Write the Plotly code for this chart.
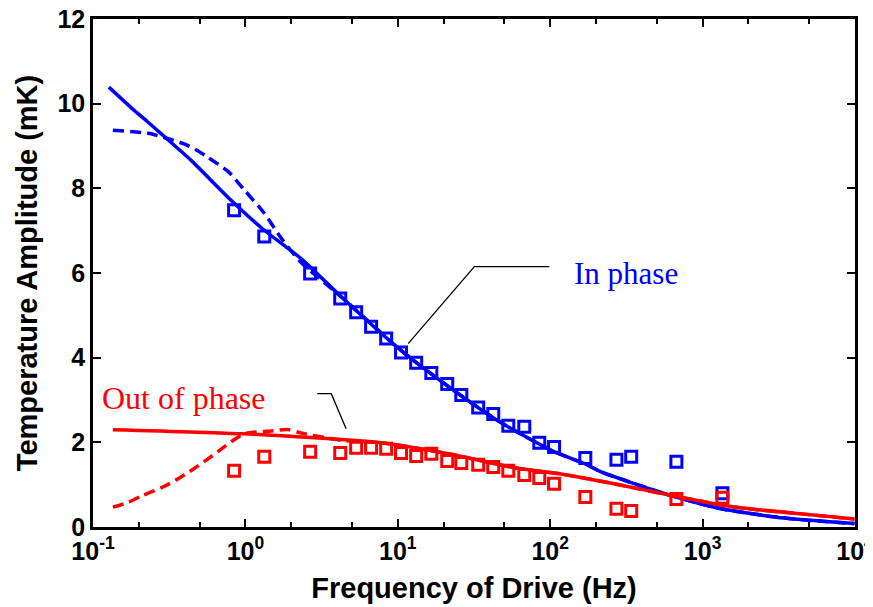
import plotly.graph_objects as go

# ---- data ----
freq_pts = [0.843, 1.33, 2.66, 4.19, 5.33, 6.68, 8.39, 10.5, 13.2, 16.6, 21.1, 26.1,
            33.7, 42.3, 53.1, 67.6, 84.8, 106, 170, 272, 340, 673, 1349]
inphase_pts = [7.48, 6.86, 5.99, 5.40, 5.07, 4.73, 4.45, 4.12, 3.88, 3.64, 3.38, 3.12,
               2.82, 2.67, 2.39, 2.37, 1.99, 1.89, 1.63, 1.59, 1.66, 1.54, 0.80]
outphase_pts = [1.33, 1.66, 1.78, 1.75, 1.87, 1.87, 1.85, 1.75, 1.68, 1.73, 1.56, 1.51,
                1.47, 1.42, 1.33, 1.23, 1.16, 1.02, 0.71, 0.43, 0.38, 0.66, 0.69]

in_solid_f = [0.127, 0.180, 0.230, 0.288, 0.440, 0.805, 1.33, 2.32, 4.25, 10.5, 22.4, 47.8,
              106, 170, 216, 340, 653, 1327, 3444, 9930]
in_solid_y = [10.39, 9.89, 9.56, 9.25, 8.66, 7.72, 7.01, 6.34, 5.44, 4.17, 3.27, 2.46,
              1.78, 1.49, 1.30, 1.05, 0.72, 0.43, 0.21, 0.08]

in_dash_f = [0.135, 0.230, 0.292, 0.396, 0.480, 0.569, 0.769, 0.98, 1.33, 1.72, 2.32, 4.25,
             10.5, 22.4, 47.8, 106, 170, 216, 340, 653, 1327, 3444, 9930]
in_dash_y = [9.37, 9.30, 9.20, 9.05, 8.90, 8.73, 8.40, 7.97, 7.41, 6.82, 6.25, 5.44,
             4.17, 3.27, 2.46, 1.78, 1.49, 1.30, 1.05, 0.72, 0.43, 0.21, 0.08]

out_solid_f = [0.135, 0.98, 7.78, 21.4, 58.1, 118, 263, 596, 1618, 4454, 9930]
out_solid_y = [2.30, 2.20, 1.99, 1.73, 1.40, 1.25, 1.02, 0.76, 0.47, 0.31, 0.19]

out_dash_f = [0.135, 0.170, 0.207, 0.290, 0.378, 0.469, 0.569, 0.700, 0.843, 0.98, 1.48,
              1.91, 2.32, 4.25, 7.78, 21.4, 58.1, 118, 263, 596, 1618, 4454, 9930]
out_dash_y = [0.47, 0.58, 0.73, 0.95, 1.18, 1.40, 1.61, 1.85, 2.06, 2.20, 2.27,
              2.30, 2.22, 2.05, 1.99, 1.73, 1.40, 1.25, 1.02, 0.76, 0.47, 0.31, 0.19]

# callout leader lines (data units)
in_call_f = [11.7, 31.8, 98.6]
in_call_y = [4.33, 6.15, 6.15]
out_call_f = [2.96, 3.66, 4.58]
out_call_y = [3.15, 3.15, 2.32]

tick_vals = [0.1, 1, 10, 100, 1000, 10000]
tick_text = ["10<sup>-1</sup>", "10<sup>0</sup>", "10<sup>1</sup>",
             "10<sup>2</sup>", "10<sup>3</sup>", "10<sup>4</sup>"]
y_ticks = [0, 2, 4, 6, 8, 10, 12]

BLUE = "#0000ff"
RED = "#ff0000"

fig = go.Figure()
fig.add_trace(go.Scatter(x=in_dash_f, y=in_dash_y, mode="lines", line_shape="spline",
                         line=dict(color=BLUE, width=3.5, dash="11px,6px", smoothing=0.7)))
fig.add_trace(go.Scatter(x=in_solid_f, y=in_solid_y, mode="lines", line_shape="spline",
                         line=dict(color=BLUE, width=3.5, smoothing=0.6)))
fig.add_trace(go.Scatter(x=freq_pts, y=inphase_pts, mode="markers",
                         marker=dict(symbol="square-open", size=11, color=BLUE,
                                     line=dict(width=3, color=BLUE))))
fig.add_trace(go.Scatter(x=out_dash_f, y=out_dash_y, mode="lines", line_shape="spline",
                         line=dict(color=RED, width=3.5, dash="11px,6px", smoothing=0.7)))
fig.add_trace(go.Scatter(x=out_solid_f, y=out_solid_y, mode="lines", line_shape="spline",
                         line=dict(color=RED, width=3.5, smoothing=0.6)))
fig.add_trace(go.Scatter(x=freq_pts, y=outphase_pts, mode="markers",
                         marker=dict(symbol="square-open", size=11, color=RED,
                                     line=dict(width=3, color=RED))))
fig.add_trace(go.Scatter(x=in_call_f, y=in_call_y, mode="lines",
                         line=dict(color="black", width=1.3)))
fig.add_trace(go.Scatter(x=out_call_f, y=out_call_y, mode="lines",
                         line=dict(color="black", width=1.3)))

fig.add_annotation(x=2.50, y=6.0, xref="x", yref="y", text="In phase", showarrow=False,
                   font=dict(family="Liberation Serif", size=31, color=BLUE))
fig.add_annotation(x=-0.403, y=3.04, xref="x", yref="y", text="Out of phase", showarrow=False,
                   font=dict(family="Liberation Serif", size=32, color=RED))

axis_font = dict(family="Liberation Sans", size=29, color="black")
tick_font = dict(family="Liberation Sans", size=25, color="black", weight="bold")
fig.update_xaxes(type="log", range=[-1, 4], tickvals=tick_vals, ticktext=tick_text,
                 ticks="inside", ticklen=8, tickwidth=2, tickcolor="black",
                 showline=True, linecolor="black", linewidth=2.5, mirror="ticks",
                 showgrid=False, zeroline=False, automargin=False, ticklabeloverflow="allow",
                 minor=dict(ticks="inside", ticklen=5, tickwidth=1.5, tickcolor="black", showgrid=False),
                 tickfont=tick_font,
                 title=dict(text="<b>Frequency of Drive (Hz)</b>", font=axis_font, standoff=14))
fig.update_yaxes(range=[0, 12], tickvals=y_ticks,
                 ticks="inside", ticklen=8, tickwidth=2, tickcolor="black",
                 showline=True, linecolor="black", linewidth=2.5, mirror="ticks",
                 showgrid=False, zeroline=False, automargin=False, ticklabeloverflow="allow",
                 tickfont=tick_font,
                 title=dict(text="<b>Temperature Amplitude (mK)</b>", font=axis_font, standoff=12))

fig.update_layout(width=873, height=607, showlegend=False,
                  paper_bgcolor="white", plot_bgcolor="white",
                  margin=dict(l=85, r=26, t=11, b=88))

fig.write_html("out.html")
